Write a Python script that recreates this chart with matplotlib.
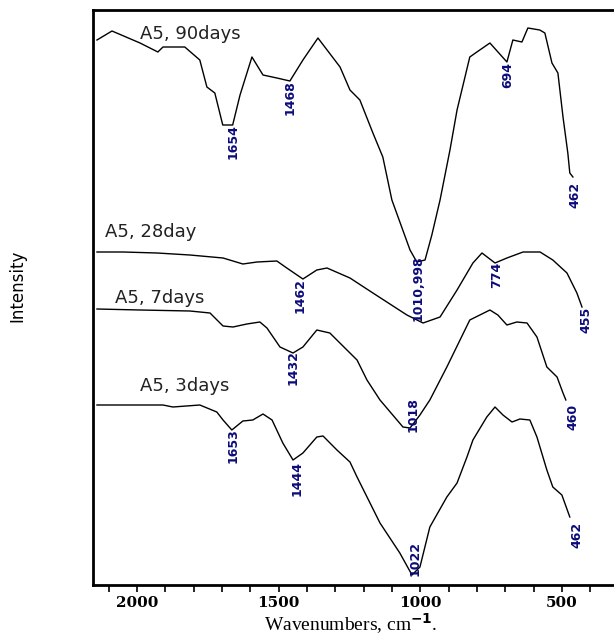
import matplotlib
matplotlib.use("Agg")
import matplotlib.pyplot as plt
from matplotlib.ticker import FixedLocator, MultipleLocator

OUTPUT_FILE = "out.png"

# wavenumbers (cm-1) and intensity (arbitrary units, stacked)
WN_90 = [2141, 2088, 1989, 1926, 1908, 1831, 1778, 1753, 1725, 1697, 1662, 1636,
         1594, 1555, 1506, 1460, 1414, 1361, 1283, 1248, 1213, 1167, 1132, 1100,
         1036, 1012, 983, 959, 930, 895, 870, 825, 800, 754, 694, 673, 641, 620,
         578, 560, 535, 514, 496, 479, 472, 461]
INT_90 = [545, 554, 542, 533, 538, 538, 525, 498, 492, 460, 460, 490,
          528, 510, 507, 504, 525, 547, 518, 495, 485, 452, 428, 385,
          335, 323, 325, 350, 385, 435, 475, 528, 533, 542, 523, 545, 543, 557,
          555, 552, 522, 512, 468, 432, 412, 408]

WN_28 = [2141, 2049, 1929, 1813, 1696, 1626, 1576, 1506, 1471, 1414, 1365, 1329,
         1248, 1167, 1047, 990, 930, 870, 814, 782, 736, 694, 637, 577, 532,
         482, 447, 429]
INT_28 = [333, 333, 332, 330, 327, 321, 323, 324, 317, 306, 315, 317,
          307, 292, 270, 262, 268, 295, 322, 332, 322, 327, 333, 333, 325,
          312, 292, 278]

WN_7 = [2141, 1989, 1813, 1742, 1696, 1661, 1612, 1566, 1541, 1495, 1449, 1414,
        1365, 1319, 1248, 1223, 1188, 1142, 1061, 1036, 1001, 966, 906, 825,
        754, 726, 694, 659, 623, 588, 553, 517, 496, 486]
INT_7 = [276, 275, 274, 272, 259, 258, 261, 263, 257, 238, 232, 238,
         255, 252, 232, 225, 205, 185, 158, 157, 170, 185, 218, 265,
         275, 270, 260, 263, 262, 248, 218, 208, 192, 185]

WN_3 = [2141, 1908, 1873, 1778, 1718, 1696, 1665, 1626, 1591, 1555, 1523, 1485,
        1449, 1414, 1365, 1343, 1294, 1248, 1223, 1142, 1072, 1029, 1001, 966,
        906, 870, 835, 814, 765, 736, 708, 676, 648, 613, 588, 553, 532, 500, 472]
INT_3 = [180, 180, 178, 180, 173, 165, 155, 164, 165, 171, 165, 142,
         125, 132, 148, 149, 135, 123, 108, 62, 32, 10, 18, 58,
         88, 102, 128, 145, 168, 178, 170, 163, 166, 165, 148, 115, 98, 90, 68]

SERIES_NAMES = ["A5, 90days", "A5, 28day", "A5, 7days", "A5, 3days"]
NAME_WN = [1989, 2113, 2078, 1989]
NAME_INT = [551, 353, 287, 199]

PEAK_TEXT = ["1654", "1468", "694", "462",
             "1462", "1010,998", "774", "455",
             "1432", "1018", "460",
             "1653", "1444", "1022", "462"]
PEAK_WN = [1661, 1460, 690, 454,
           1425, 1008, 729, 415,
           1449, 1026, 461,
           1661, 1435, 1019, 447]
PEAK_INT = [443, 487, 510, 390,
            289, 297, 310, 265,
            217, 170, 168,
            139, 107, 27, 50]

TICK_LABELS = [2000, 1500, 1000, 500]


def plot_spectra():
    fig = plt.figure(figsize=(6.14, 6.35), dpi=100)
    ax = fig.add_axes([93 / 614, 50 / 635, 521 / 614, 575 / 635])

    for wn, inten in [(WN_90, INT_90), (WN_28, INT_28), (WN_7, INT_7), (WN_3, INT_3)]:
        ax.plot(wn, inten, color="black", lw=1.0)

    for name, x, y in zip(SERIES_NAMES, NAME_WN, NAME_INT):
        ax.text(x, y, name, ha="left", va="center", fontsize=13,
                family="DejaVu Sans", color="#222222")

    for txt, x, y in zip(PEAK_TEXT, PEAK_WN, PEAK_INT):
        ax.text(x, y, txt, rotation=90, ha="center", va="center", fontsize=9,
                fontweight="bold", color="#0b0b7a",
                family=["Liberation Sans Narrow", "DejaVu Sans"])

    ax.set_xlim(2155, 316)
    ax.set_ylim(0, 575)

    ax.xaxis.set_major_locator(FixedLocator(TICK_LABELS))
    ax.xaxis.set_minor_locator(MultipleLocator(100))
    ax.set_xticklabels([str(t) for t in TICK_LABELS], fontsize=11,
                       fontweight="bold", family="DejaVu Serif")
    ax.tick_params(axis="x", which="both", direction="out", length=5, width=1.2,
                   top=False, pad=3)
    ax.set_yticks([])

    for side in ["left", "bottom", "top"]:
        ax.spines[side].set_linewidth(2.0)
    ax.spines["right"].set_visible(False)

    fig.text(351 / 614, 1 - 624 / 635, r"Wavenumbers, cm$^{\mathbf{-1}}$.",
             ha="center", va="center", fontsize=14, family="Liberation Serif")
    ax.set_ylabel("Intensity", fontsize=12, family=["Liberation Sans Narrow", "DejaVu Sans"])
    ax.yaxis.set_label_coords(-0.127, 0.52)

    fig.savefig(OUTPUT_FILE, dpi=100)
    plt.close(fig)


if __name__ == "__main__":
    plot_spectra()
